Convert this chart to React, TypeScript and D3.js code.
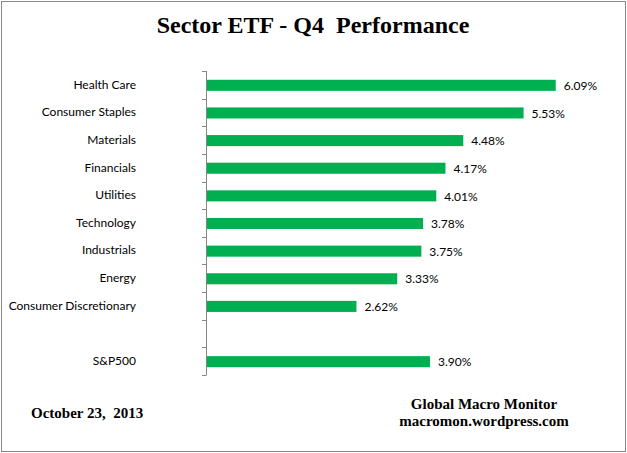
import { useEffect, useRef } from 'react'
import * as d3 from 'd3'

const categories = [
  'Health Care',
  'Consumer Staples',
  'Materials',
  'Financials',
  'Utilities',
  'Technology',
  'Industrials',
  'Energy',
  'Consumer Discretionary',
  ' ',
  'S&P500',
]
const values = [6.09, 5.53, 4.48, 4.17, 4.01, 3.78, 3.75, 3.33, 2.62, null, 3.9]

const title = 'Sector ETF - Q4  Performance'
const dateText = 'October 23,  2013'
const sourceLines = ['Global Macro Monitor', 'macromon.wordpress.com']

export default function App() {
  const svgRef = useRef<SVGSVGElement>(null)

  useEffect(() => {
    if (!svgRef.current) return
    const width = 627
    const height = 453

    const svg = d3.select(svgRef.current)
    svg.selectAll('*').remove()
    svg.attr('width', width).attr('height', height)

    svg.append('rect')
      .attr('width', width)
      .attr('height', height)
      .attr('fill', 'white')

    // outer border
    svg.append('rect')
      .attr('x', 1.5)
      .attr('y', 1.5)
      .attr('width', 624)
      .attr('height', 450)
      .attr('fill', 'none')
      .attr('stroke', '#888')
      .attr('stroke-width', 1)

    const serif = '"Liberation Serif", "Times New Roman", serif'
    const sans = 'Lato, "Open Sans", sans-serif'

    svg.append('text')
      .attr('x', 313)
      .attr('y', 33)
      .attr('text-anchor', 'middle')
      .style('font-family', serif)
      .style('font-weight', 'bold')
      .style('font-size', '24px')
      .style('white-space', 'pre')
      .text(title)

    const x = d3.scaleLinear().domain([0, 7]).range([206, 608])
    const y = d3.scaleBand<string>().domain(categories).range([71, 375])

    const barH = y.bandwidth() * 0.4
    const data = categories.map((c, i) => ({ name: c, value: values[i] }))

    // bars
    svg.append('g')
      .selectAll('rect')
      .data(data.filter(d => d.value != null))
      .enter().append('rect')
      .attr('x', x(0))
      .attr('y', d => (y(d.name) as number) + (y.bandwidth() - barH) / 2 + 0.5)
      .attr('width', d => x(d.value as number) - x(0))
      .attr('height', barH)
      .attr('fill', '#00B050')

    // value labels
    svg.append('g')
      .selectAll('text')
      .data(data.filter(d => d.value != null))
      .enter().append('text')
      .attr('x', d => x(d.value as number) + 8)
      .attr('y', d => (y(d.name) as number) + y.bandwidth() / 2 + 1)
      .attr('dy', '0.35em')
      .style('font-family', sans)
      .style('font-size', '12px')
      .attr('fill', '#000')
      .text(d => `${(d.value as number).toFixed(2)}%`)

    // axis
    const axis = d3.axisLeft(y).tickSize(0).tickPadding(70)
    const gAxis = svg.append('g')
      .attr('transform', `translate(${x(0)},0)`)
      .call(axis)
    gAxis.select('.domain').remove()
    gAxis.selectAll('text')
      .style('font-family', sans)
      .style('font-size', '12px')
      .attr('fill', '#000')

    svg.append('line')
      .attr('x1', x(0) + 0.5)
      .attr('x2', x(0) + 0.5)
      .attr('y1', y.range()[0])
      .attr('y2', y.range()[1])
      .attr('stroke', '#868686')

    // tick marks at category boundaries
    const boundaries = categories.map(c => y(c) as number).concat([y.range()[1]])
    svg.append('g')
      .selectAll('line')
      .data(boundaries)
      .enter().append('line')
      .attr('x1', x(0) - 4)
      .attr('x2', x(0) + 0.5)
      .attr('y1', d => Math.round(d) + 0.5)
      .attr('y2', d => Math.round(d) + 0.5)
      .attr('stroke', '#868686')

    // footer
    svg.append('text')
      .attr('x', 31)
      .attr('y', 418)
      .style('font-family', serif)
      .style('font-weight', 'bold')
      .style('font-size', '15px')
      .style('white-space', 'pre')
      .text(dateText)

    svg.append('g')
      .selectAll('text')
      .data(sourceLines)
      .enter().append('text')
      .attr('x', 484)
      .attr('y', (d, i) => 409 + i * 17)
      .attr('text-anchor', 'middle')
      .style('font-family', serif)
      .style('font-weight', 'bold')
      .style('font-size', '15px')
      .text(d => d)
  }, [])

  return <svg ref={svgRef} style={{ position: 'absolute', left: 0, top: 0 }} />
}
